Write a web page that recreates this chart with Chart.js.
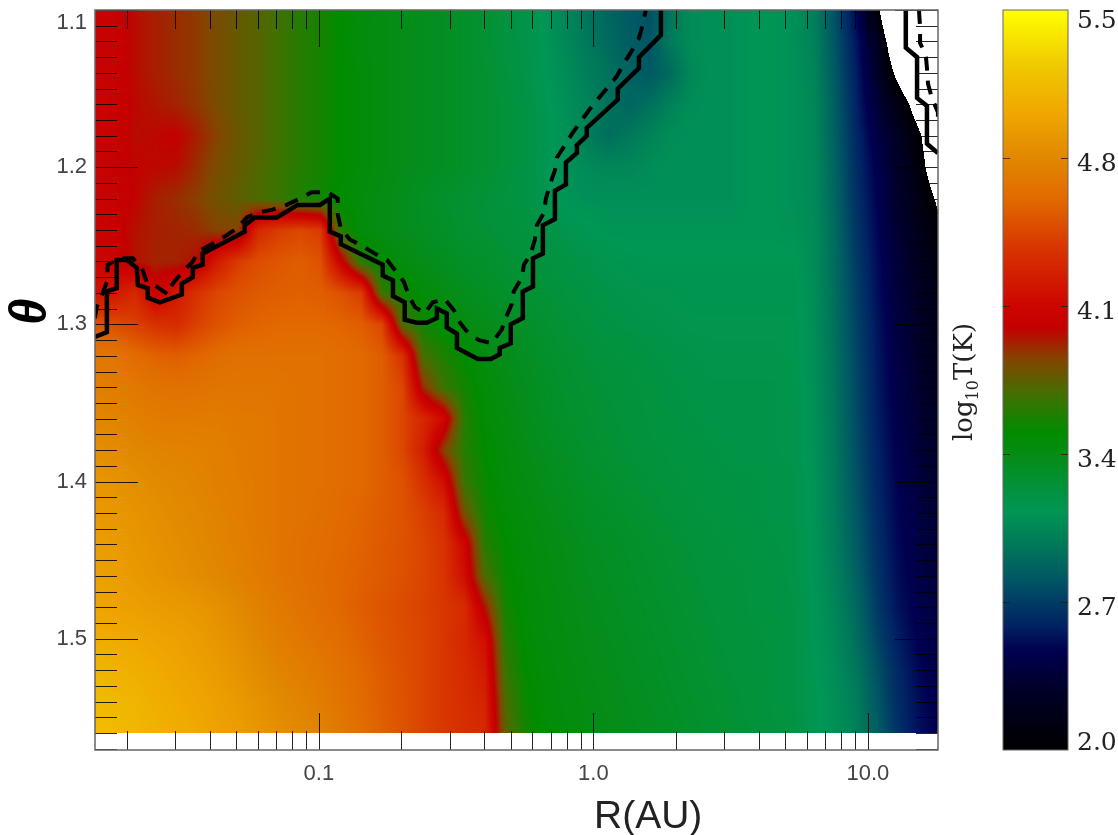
<!DOCTYPE html>
<html>
<head>
<meta charset="utf-8">
<style>
  html, body { margin: 0; padding: 0; background: #fff; }
  canvas { display: block; }
</style>
<script src="https://cdn.jsdelivr.net/npm/chart.js@4/dist/chart.umd.min.js"></script>
</head>
<body>
<canvas id="myChart" width="1118" height="835"></canvas>
<script>
// axis ticks
const xMajor = [0.1, 1, 10];
const xLabels = ['0.1', '1.0', '10.0'];
const xMinor = [0.02, 0.03, 0.04, 0.05, 0.06, 0.07, 0.08, 0.09, 0.2, 0.3, 0.4, 0.5, 0.6, 0.7, 0.8, 0.9, 2, 3, 4, 5, 6, 7, 8, 9];
const thetaMajor = [1.1, 1.2, 1.3, 1.4, 1.5];
const tempTicks = [2.0, 2.7, 3.4, 4.1, 4.8, 5.5];

// colour table of the log10 T bar
const tableValues = [2.0, 2.28, 2.47, 2.59, 2.7, 2.8, 2.97, 3.13, 3.4, 3.5, 3.69, 3.845, 3.995, 4.1, 4.36, 4.6, 4.8, 5.03, 5.23, 5.5];
const tableColours = [[0,0,0],[0,0,40],[0,0,80],[0,35,100],[0,60,100],[0,85,100],[0,120,90],[0,150,85],[5,140,20],[0,140,0],[70,110,0],[130,70,0],[195,0,0],[205,5,0],[215,50,0],[225,105,0],[225,135,0],[240,170,0],[240,200,0],[255,255,0]];

// grid of the temperature map
const gridLogR = [-1.82,-1.745,-1.67,-1.595,-1.52,-1.445,-1.37,-1.295,-1.22,-1.145,-1.07,-0.995,-0.92,-0.845,-0.77,-0.695,-0.62,-0.545,-0.47,-0.395,-0.32,-0.245,-0.17,-0.095,-0.02,0.055,0.13,0.205,0.28,0.355,0.43,0.505,0.58,0.655,0.73,0.805,0.88,0.955,1.03,1.105,1.18,1.255];
const gridTheta = [1.10,1.12,1.14,1.16,1.18,1.20,1.22,1.24,1.26,1.28,1.30,1.32,1.34,1.36,1.38,1.40,1.42,1.44,1.46,1.48,1.50,1.52,1.54,1.56];
// one row per theta, below 2.0 is off the colour table (white)
const logT = [
  [4.05,4.03,3.97,3.93,3.9,3.87,3.82,3.77,3.73,3.67, 3.6,3.56,3.5,3.46,3.42,3.38,3.36,3.34,3.31,3.27, 3.22,3.18,3.12,3.04,2.95,2.88,2.82,2.78,2.95,3.08, 3.1,3.1,3.12,3.12,3.1, 3.0,2.78,2.5,2.1,1.5,1.4,1.3],
  [4.05,4.03,3.97,3.93,3.9,3.87,3.82,3.77,3.73,3.67, 3.6,3.56,3.5,3.44,3.42,3.38,3.36,3.34,3.31,3.27, 3.22,3.18,3.12,3.05,2.97,2.9,2.84,2.8,2.98,3.08, 3.1,3.1,3.12,3.12,3.1, 3.02,2.8,2.55,2.25,1.75,1.6,1.5],
  [4.05,4.03,3.97,3.93,3.9,3.87,3.82,3.77,3.73,3.67, 3.6,3.56,3.5,3.46,3.42,3.38,3.36,3.34,3.31,3.28, 3.23,3.19,3.13,3.07,3.0,2.94,2.87,2.82,2.9,3.05, 3.1,3.1,3.12,3.12,3.1, 3.03,2.82,2.58,2.3,1.95,1.7,1.6],
  [4.07,4.04,3.98,3.95,3.92,3.88,3.82,3.77,3.73,3.67, 3.6,3.56,3.5,3.46,3.42,3.38,3.36,3.34,3.31,3.28, 3.24,3.2,3.14,3.09,3.03,2.93,2.88,2.93,3.02,3.08, 3.1,3.1,3.12,3.12,3.1, 3.05,2.84,2.6,2.36,2.15,1.9,1.7],
  [4.07,4.03,3.97,3.98,4.0,3.93,3.85,3.78,3.73,3.67, 3.6,3.56,3.5,3.46,3.42,3.38,3.36,3.34,3.31,3.28, 3.24,3.2,3.15,3.1,2.99,2.92,2.97,3.03,3.08,3.1, 3.1,3.1,3.12,3.12,3.1, 3.05,2.85,2.62,2.42,2.25,2.05,1.8],
  [4.07,4.02,3.99,3.98,3.97,3.9,3.82,3.77,3.72,3.66, 3.6,3.56,3.5,3.46,3.42,3.38,3.36,3.34,3.31,3.28, 3.24,3.2,3.14,3.1,3.07,3.05,3.05,3.08,3.1,3.1, 3.1,3.1,3.12,3.12,3.1, 3.06,2.87,2.64,2.46,2.28,2.1,1.85],
  [4.07,4.03,3.99,3.93,3.9,3.86,3.8,3.75,3.7,3.65, 3.58,3.54,3.48,3.44,3.4,3.37,3.33,3.3,3.28,3.25, 3.22,3.2,3.15,3.12,3.1,3.1,3.1,3.1,3.1,3.1, 3.1,3.1,3.12,3.12,3.1, 3.06,2.88,2.66,2.48,2.3,2.15,1.97],
  [4.05,4.02,3.96,3.93,3.92,3.9,3.85,3.85,4.3,4.4, 4.45,4.4,3.6,3.45,3.4,3.37,3.34,3.32,3.28,3.26, 3.24,3.22,3.2,3.16,3.14,3.12,3.12,3.12,3.12,3.12, 3.12,3.12,3.12,3.12,3.11, 3.07,2.9,2.68,2.5,2.33,2.2,2.05],
  [4.1,4.06,3.96,3.92,3.92,3.97,4.22,4.4,4.48,4.52, 4.55,4.5,4.05,3.6,3.48,3.42,3.38,3.35,3.32,3.3, 3.27,3.25,3.22,3.2,3.18,3.16,3.15,3.14,3.14,3.14, 3.14,3.14,3.14,3.14,3.14, 3.07,2.91,2.7,2.52,2.36,2.23,2.1],
  [4.15,4.2,4.3,4.05,4.2,4.35,4.45,4.5,4.53,4.55, 4.56,4.55,4.5,4.4,3.65,3.55,3.45,3.4,3.36,3.33, 3.3,3.28,3.25,3.22,3.2,3.18,3.17,3.16,3.16,3.15, 3.15,3.15,3.15,3.15,3.15, 3.08,2.92,2.72,2.53,2.38,2.26,2.14],
  [4.5,4.48,4.42,4.35,4.32,4.42,4.5,4.55,4.58,4.6, 4.6,4.6,4.58,4.55,4.45,3.7,3.55,3.47,3.42,3.38, 3.34,3.31,3.28,3.25,3.22,3.2,3.19,3.18,3.17,3.16, 3.16,3.16,3.16,3.16,3.16, 3.08,2.93,2.73,2.55,2.4,2.28,2.17],
  [4.7,4.68,4.62,4.57,4.55,4.58,4.62,4.65,4.65,4.65, 4.65,4.65,4.62,4.6,4.55,4.35,3.68,3.58,3.5,3.42, 3.38,3.34,3.3,3.28,3.25,3.23,3.22,3.2,3.19,3.18, 3.17,3.17,3.17,3.17,3.16, 3.09,2.94,2.75,2.56,2.42,2.3,2.2],
  [4.75,4.73,4.7,4.67,4.65,4.66,4.68,4.68,4.68,4.68, 4.66,4.65,4.62,4.6,4.55,4.45,3.9,3.65,3.55,3.46, 3.4,3.36,3.32,3.29,3.27,3.25,3.23,3.22,3.2,3.19, 3.18,3.18,3.18,3.18,3.17, 3.09,2.95,2.76,2.57,2.43,2.32,2.23],
  [4.8,4.78,4.75,4.72,4.72,4.72,4.72,4.7,4.7,4.68, 4.66,4.65,4.62,4.6,4.55,4.45,4.3,4.12,3.6,3.48, 3.42,3.37,3.33,3.3,3.28,3.26,3.24,3.22,3.21,3.2, 3.19,3.19,3.19,3.18,3.17, 3.1,2.96,2.77,2.58,2.45,2.34,2.25],
  [4.85,4.83,4.8,4.78,4.77,4.76,4.75,4.72,4.7,4.68, 4.66,4.65,4.62,4.6,4.55,4.45,4.25,3.85,3.6,3.5, 3.44,3.39,3.35,3.32,3.29,3.27,3.25,3.23,3.22,3.21, 3.2,3.19,3.19,3.18,3.17, 3.1,2.97,2.78,2.6,2.46,2.36,2.28],
  [4.9,4.88,4.85,4.82,4.8,4.78,4.75,4.73,4.7,4.68, 4.66,4.65,4.62,4.6,4.55,4.5,4.35,4.15,3.65,3.52, 3.45,3.41,3.37,3.34,3.31,3.29,3.27,3.25,3.23,3.22, 3.21,3.2,3.2,3.19,3.18, 3.11,2.98,2.8,2.61,2.48,2.38,2.3],
  [4.92,4.9,4.88,4.85,4.82,4.8,4.77,4.74,4.7,4.68, 4.66,4.64,4.61,4.58,4.54,4.5,4.42,4.32,3.8,3.55, 3.47,3.43,3.39,3.36,3.33,3.31,3.29,3.27,3.25,3.23, 3.22,3.21,3.2,3.19,3.18, 3.11,2.99,2.82,2.63,2.49,2.4,2.32],
  [4.95,4.93,4.9,4.87,4.84,4.81,4.78,4.75,4.71,4.68, 4.65,4.63,4.6,4.57,4.53,4.5,4.44,4.36,4.1,3.6, 3.5,3.45,3.41,3.38,3.35,3.33,3.31,3.29,3.27,3.25, 3.23,3.22,3.21,3.2,3.19, 3.12,3.0,2.84,2.65,2.5,2.42,2.34],
  [4.97,4.95,4.92,4.89,4.86,4.83,4.8,4.76,4.72,4.68, 4.65,4.62,4.59,4.56,4.53,4.49,4.44,4.37,4.15,3.7, 3.52,3.46,3.42,3.39,3.36,3.34,3.32,3.3,3.28,3.26, 3.24,3.23,3.22,3.21,3.19, 3.12,3.02,2.87,2.67,2.52,2.43,2.36],
  [5.0,4.98,4.96,4.94,4.92,4.9,4.86,4.81,4.76,4.71, 4.67,4.63,4.59,4.55,4.51,4.47,4.43,4.38,4.32,3.95, 3.55,3.47,3.43,3.4,3.37,3.35,3.33,3.31,3.29,3.27, 3.25,3.24,3.22,3.21,3.2, 3.13,3.04,2.9,2.7,2.54,2.45,2.38],
  [5.05,5.03,5.01,4.99,4.97,4.94,4.9,4.85,4.79,4.74, 4.7,4.66,4.62,4.57,4.52,4.48,4.44,4.38,4.3,4.15, 3.6,3.48,3.44,3.41,3.38,3.36,3.34,3.32,3.3,3.28, 3.26,3.24,3.23,3.22,3.2, 3.13,3.06,2.93,2.74,2.58,2.47,2.4],
  [5.1,5.08,5.06,5.03,5.0,4.97,4.93,4.88,4.83,4.78, 4.74,4.7,4.65,4.6,4.54,4.49,4.44,4.38,4.32,4.22, 3.65,3.5,3.45,3.42,3.39,3.37,3.35,3.33,3.31,3.29, 3.27,3.25,3.24,3.22,3.2, 3.14,3.08,2.97,2.79,2.62,2.5,2.42],
  [5.14,5.12,5.1,5.06,5.03,5.0,4.96,4.92,4.87,4.82, 4.78,4.73,4.67,4.61,4.55,4.5,4.44,4.38,4.33,4.27, 3.7,3.52,3.46,3.43,3.4,3.38,3.36,3.34,3.32,3.3, 3.28,3.26,3.24,3.22,3.2, 3.15,3.09,3.0,2.82,2.64,2.52,2.44],
  [5.16,5.14,5.12,5.08,5.05,5.02,4.98,4.95,4.9,4.85, 4.81,4.77,4.7,4.63,4.56,4.5,4.44,4.38,4.34,4.3, 3.75,3.55,3.47,3.44,3.41,3.39,3.37,3.35,3.33,3.31, 3.29,3.27,3.25,3.23,3.21, 3.15,3.1,3.02,2.85,2.66,2.53,2.46]
];

// contours (log10 R, theta)
const solidLogR = [-1.816,-1.772,-1.772,-1.736,-1.736,-1.699,-1.663,-1.659,-1.623,-1.623,-1.579,-1.499,-1.499,-1.459,-1.459,-1.423,-1.423,-1.27,-1.27,-1.233,-1.153,-1.077,-0.996,-0.96,-0.96,-0.92,-0.92,-0.767,-0.767,-0.73,-0.73,-0.687,-0.687,-0.643,-0.607,-0.57,-0.57,-0.534,-0.534,-0.497,-0.497,-0.421,-0.373,-0.341,-0.341,-0.301,-0.301,-0.257,-0.257,-0.22,-0.22,-0.184,-0.184,-0.14,-0.14,-0.1,-0.1,-0.06,-0.06,-0.024,-0.024,0.089,0.089,0.166,0.166,0.246,0.246];
const solidTheta = [1.308,1.305,1.279,1.277,1.259,1.259,1.264,1.275,1.277,1.283,1.286,1.281,1.274,1.27,1.264,1.262,1.255,1.241,1.237,1.232,1.232,1.224,1.224,1.22,1.241,1.244,1.249,1.262,1.269,1.272,1.282,1.286,1.297,1.299,1.299,1.296,1.29,1.293,1.302,1.306,1.315,1.322,1.322,1.319,1.315,1.312,1.3,1.296,1.279,1.276,1.258,1.255,1.237,1.233,1.215,1.211,1.197,1.191,1.186,1.18,1.175,1.157,1.15,1.137,1.13,1.116,1.1];
const dashLogR = [-1.816,-1.809,-1.787,-1.772,-1.769,-1.725,-1.678,-1.645,-1.627,-1.59,-1.55,-1.532,-1.499,-1.463,-1.434,-1.39,-1.342,-1.299,-1.262,-1.222,-1.168,-1.117,-1.069,-1.026,-0.967,-0.931,-0.931,-0.92,-0.887,-0.843,-0.796,-0.752,-0.716,-0.69,-0.672,-0.65,-0.614,-0.585,-0.541,-0.508,-0.486,-0.454,-0.417,-0.37,-0.333,-0.322,-0.297,-0.29,-0.26,-0.253,-0.228,-0.213,-0.206,-0.18,-0.173,-0.158,-0.14,-0.133,-0.104,-0.075,-0.042,-0.013,0.02,0.053,0.086,0.111,0.14,0.166,0.18,0.191];
const dashTheta = [1.296,1.289,1.28,1.273,1.262,1.258,1.258,1.264,1.273,1.276,1.281,1.274,1.267,1.261,1.253,1.249,1.244,1.239,1.232,1.229,1.227,1.224,1.22,1.216,1.216,1.22,1.23,1.239,1.246,1.25,1.255,1.259,1.267,1.273,1.282,1.289,1.293,1.286,1.284,1.291,1.299,1.306,1.31,1.312,1.303,1.297,1.287,1.279,1.27,1.262,1.255,1.246,1.237,1.229,1.22,1.211,1.202,1.194,1.186,1.178,1.17,1.163,1.156,1.149,1.142,1.134,1.126,1.118,1.109,1.1];
const outerSolidLogR = [1.138,1.138,1.179,1.179,1.215,1.215,1.255];
const outerSolidTheta = [1.1,1.124,1.13,1.156,1.161,1.185,1.191];
const outerDashLogR = [1.186,1.19,1.19,1.211,1.215,1.219,1.233,1.255,1.255];
const outerDashTheta = [1.1,1.111,1.121,1.129,1.137,1.147,1.156,1.165,1.173];

function toPoints(logR, theta) {
  return logR.map((l, i) => ({ x: Math.pow(10, l), y: theta[i] }));
}

function colourOf(v) {
  if (v <= tableValues[0]) return tableColours[0];
  for (let i = 1; i < tableValues.length; i++) {
    if (v <= tableValues[i]) {
      const f = (v - tableValues[i-1]) / (tableValues[i] - tableValues[i-1]);
      const a = tableColours[i-1], b = tableColours[i];
      return [a[0]+(b[0]-a[0])*f, a[1]+(b[1]-a[1])*f, a[2]+(b[2]-a[2])*f];
    }
  }
  return tableColours[tableColours.length-1];
}

function cellIndex(grid, v) {
  let i = 0;
  while (i < grid.length - 2 && v > grid[i+1]) i++;
  return [i, (v - grid[i]) / (grid[i+1] - grid[i])];
}

let heatImage = null;

const heatPlugin = {
  id: 'heat',
  beforeDatasetsDraw(chart) {
    const { ctx, chartArea: area, scales } = chart;
    const w = Math.round(area.right - area.left), h = Math.round(area.bottom - area.top);
    if (!heatImage) {
      heatImage = ctx.createImageData(w, h);
      const d = heatImage.data;
      for (let j = 0; j < h; j++) {
        const theta = scales.y.getValueForPixel(area.top + j + 0.5);
        if (theta > gridTheta[gridTheta.length-1]) continue;
        const [r, fr] = cellIndex(gridTheta, theta);
        for (let i = 0; i < w; i++) {
          const lr = Math.log10(scales.x.getValueForPixel(area.left + i + 0.5));
          const [c, fc] = cellIndex(gridLogR, lr);
          const top = logT[r][c] * (1-fc) + logT[r][c+1] * fc;
          const bot = logT[r+1][c] * (1-fc) + logT[r+1][c+1] * fc;
          const v = top * (1-fr) + bot * fr;
          if (v < 2) continue;
          const col = colourOf(v);
          const k = (j * w + i) * 4;
          d[k] = col[0]; d[k+1] = col[1]; d[k+2] = col[2]; d[k+3] = 255;
        }
      }
    }
    ctx.putImageData(heatImage, Math.round(area.left), Math.round(area.top));
  },
  afterDatasetsDraw(chart) {
    const { ctx, chartArea: area, scales } = chart;
    ctx.save();
    ctx.strokeStyle = 'rgba(0,0,0,0.85)';
    ctx.lineWidth = 1;
    const line = (x1, y1, x2, y2) => {
      ctx.beginPath();
      ctx.moveTo(x1, y1);
      ctx.lineTo(x2, y2);
      ctx.stroke();
    };
    // x ticks, bottom and top, inward
    xMajor.concat(xMinor).forEach(v => {
      const px = Math.round(scales.x.getPixelForValue(v)) + 0.5;
      const len = xMajor.includes(v) ? 37 : 19;
      line(px, area.bottom, px, area.bottom - len);
      line(px, area.top, px, area.top + len);
    });
    // theta ticks every 0.01, left and right
    for (let n = 110; n <= 157; n++) {
      const py = Math.round(scales.y.getPixelForValue(n / 100)) + 0.5;
      const len = n % 10 === 0 ? 43 : 22;
      line(area.left, py, area.left + len, py);
      line(area.right, py, area.right - len, py);
    }
    // frame
    ctx.strokeStyle = '#666';
    ctx.lineWidth = 1.5;
    ctx.strokeRect(area.left, area.top, area.right - area.left, area.bottom - area.top);

    // colour bar on the log10 T scale
    const barL = 1003, barR = 1068;
    const barTop = Math.round(area.top), barBottom = Math.round(area.bottom);
    for (let p = barTop; p < barBottom; p++) {
      const c = colourOf(scales.T.getValueForPixel(p + 0.5));
      ctx.fillStyle = `rgb(${Math.round(c[0])},${Math.round(c[1])},${Math.round(c[2])})`;
      ctx.fillRect(barL, p, barR - barL, 1);
    }
    ctx.strokeStyle = '#666';
    ctx.lineWidth = 1;
    ctx.strokeRect(barL, barTop, barR - barL, barBottom - barTop);
    ctx.fillStyle = '#222';
    ctx.font = '25px "DejaVu Serif"';
    ctx.textAlign = 'left';
    ctx.textBaseline = 'alphabetic';
    tempTicks.forEach(v => {
      const p = Math.round(scales.T.getPixelForValue(v)) + 0.5;
      if (p > area.top + 1 && p < area.bottom - 1) {
        ctx.strokeStyle = 'rgba(40,30,0,0.8)';
        line(barL, p, barL + 7, p);
        line(barR, p, barR - 7, p);
      }
      ctx.fillText(v.toFixed(1), 1077, Math.min(750, Math.max(28, p + 12)));
    });

    // axis titles
    ctx.fillStyle = '#222';
    ctx.font = '39px "Liberation Sans"';
    ctx.fillText('R(AU)', 594, 828);
    ctx.save();
    ctx.translate(45, 324);
    ctx.rotate(-Math.PI / 2);
    ctx.fillStyle = '#000';
    ctx.strokeStyle = '#000';
    ctx.lineWidth = 2;
    ctx.font = 'italic 50px "Liberation Serif"';
    ctx.fillText('θ', 0, 0);
    ctx.strokeText('θ', 0, 0);
    ctx.restore();
    ctx.save();
    ctx.translate(972, 441);
    ctx.rotate(-Math.PI / 2);
    ctx.font = '26px "DejaVu Serif"';
    ctx.fillText('log', 0, 0);
    let off = ctx.measureText('log').width;
    ctx.font = '16px "DejaVu Serif"';
    ctx.fillText('10', off, 6);
    off += ctx.measureText('10').width;
    ctx.font = '26px "DejaVu Serif"';
    ctx.fillText('T(K)', off, 0);
    ctx.restore();
    ctx.restore();
  }
};

new Chart(document.getElementById('myChart'), {
  type: 'scatter',
  data: {
    datasets: [
      { data: toPoints(solidLogR, solidTheta), borderWidth: 4.5 },
      { data: toPoints(dashLogR, dashTheta), borderWidth: 4, borderDash: [14, 10] },
      { data: toPoints(outerSolidLogR, outerSolidTheta), borderWidth: 4.5 },
      { data: toPoints(outerDashLogR, outerDashTheta), borderWidth: 4, borderDash: [14, 10] }
    ].map(d => Object.assign(d, { showLine: true, pointRadius: 0, borderColor: '#000', tension: 0, borderJoinStyle: 'miter' }))
  },
  options: {
    responsive: false,
    animation: false,
    layout: { autoPadding: false, padding: { top: 10 } },
    plugins: { legend: { display: false }, tooltip: { enabled: false } },
    scales: {
      x: {
        type: 'logarithmic',
        min: 0.0153,
        max: 18,
        grid: { display: false, drawTicks: false },
        border: { display: false },
        afterBuildTicks: axis => { axis.ticks = xMajor.map(v => ({ value: v })); },
        afterFit: axis => { axis.height = 85; axis.paddingLeft = 0; axis.paddingRight = 0; },
        ticks: {
          autoSkip: false,
          maxRotation: 0,
          padding: 11,
          color: '#444',
          font: { family: 'Liberation Sans', size: 22 },
          callback: v => xLabels[xMajor.indexOf(v)]
        }
      },
      y: {
        type: 'linear',
        reverse: true,
        min: 1.1,
        max: 1.5708,
        grid: { display: false, drawTicks: false },
        border: { display: false },
        afterBuildTicks: axis => { axis.ticks = thetaMajor.map(v => ({ value: v })); },
        afterFit: axis => { axis.width = 95; axis.paddingTop = 0; axis.paddingBottom = 0; },
        ticks: {
          autoSkip: false,
          padding: 8,
          color: '#444',
          font: { family: 'Liberation Sans', size: 22, lineHeight: 1.2 },
          callback: v => v === 1.1 ? ['', '1.1'] : v.toFixed(1)
        }
      },
      T: {
        type: 'linear',
        position: 'right',
        min: 2.0,
        max: 5.5,
        grid: { display: false },
        border: { display: false },
        ticks: { display: false },
        afterFit: axis => { axis.width = 180; axis.paddingTop = 0; axis.paddingBottom = 0; }
      }
    }
  },
  plugins: [heatPlugin]
});
</script>
</body>
</html>
